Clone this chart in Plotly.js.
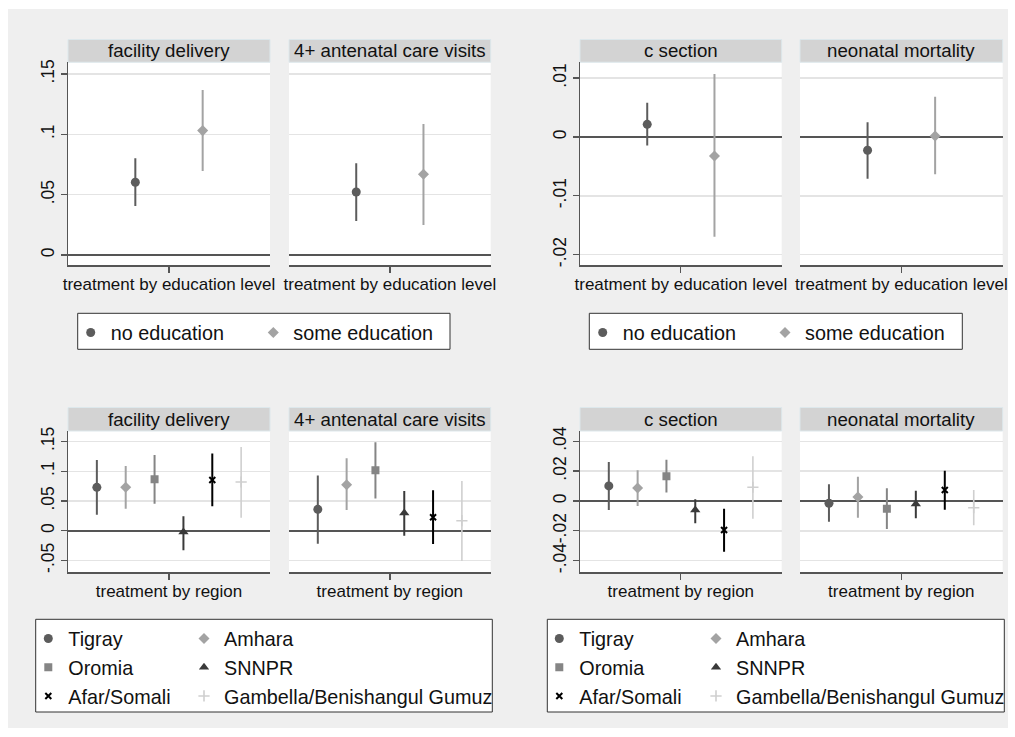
<!DOCTYPE html>
<html><head><meta charset="utf-8">
<script src="https://cdn.plot.ly/plotly-3.0.1.min.js"></script>
<style>html,body{margin:0;padding:0;background:#fff}#chart{width:1015px;height:737px}</style>
</head><body><div id="chart"></div>
<script>
// ---------------- DATA ----------------
const panelTitles = ['facility delivery', '4+ antenatal care visits', 'c section', 'neonatal mortality'];
const eduAxisTitle = 'treatment by education level';
const regAxisTitle = 'treatment by region';

const eduGroups = ['no education', 'some education'];
const eduX = [1, 2];
const fdEduEst = [0.0603, 0.1031];
const fdEduLo  = [0.0406, 0.0697];
const fdEduHi  = [0.0802, 0.1368];
const ancEduEst = [0.0522, 0.0669];
const ancEduLo  = [0.0282, 0.0249];
const ancEduHi  = [0.0760, 0.1086];
const csEduEst = [0.00215, -0.00323];
const csEduLo  = [-0.00147, -0.01693];
const csEduHi  = [0.00583, 0.0107];
const nmEduEst = [-0.00226, 0.00017];
const nmEduLo  = [-0.00708, -0.00634];
const nmEduHi  = [0.0025, 0.00685];

const regions = ['Tigray', 'Amhara', 'Oromia', 'SNNPR', 'Afar/Somali', 'Gambella/Benishangul Gumuz'];
const regX = [1, 2, 3, 4, 5, 6];
const fdRegEst = [0.073, 0.073, 0.0865, -0.002, 0.0853, 0.082];
const fdRegLo  = [0.027, 0.037, 0.0455, -0.033, 0.041, 0.022];
const fdRegHi  = [0.119, 0.109, 0.1274, 0.0242, 0.130, 0.141];
const ancRegEst = [0.036, 0.0775, 0.1017, 0.030, 0.0226, 0.0168];
const ancRegLo  = [-0.022, 0.035, 0.054, -0.0084, -0.0224, -0.051];
const ancRegHi  = [0.093, 0.122, 0.149, 0.0668, 0.068, 0.0837];
const csRegEst = [0.0101, 0.0087, 0.0166, -0.006, -0.0195, 0.0092];
const csRegLo  = [-0.006, -0.0034, 0.0056, -0.015, -0.034, -0.0119];
const csRegHi  = [0.0262, 0.0206, 0.0277, 0.0011, -0.0052, 0.030];
const nmRegEst = [-0.0015, 0.0027, -0.0052, -0.002, 0.0074, -0.0045];
const nmRegLo  = [-0.0139, -0.0112, -0.0188, -0.0116, -0.0058, -0.0163];
const nmRegHi  = [0.0112, 0.0163, 0.0085, 0.0069, 0.0203, 0.0074];

const tlTickVals = [0, 0.05, 0.1, 0.15];
const tlTickText = ['0', '.05', '.1', '.15'];
const trTickVals = [-0.02, -0.01, 0, 0.01];
const trTickText = ['-.02', '-.01', '0', '.01'];
const blTickVals = [-0.05, 0, 0.05, 0.1, 0.15];
const blTickText = ['-.05', '0', '.05', '.1', '.15'];
const brTickVals = [-0.04, -0.02, 0, 0.02, 0.04];
const brTickText = ['-.04', '-.02', '0', '.02', '.04'];

// ---------------- STYLE ----------------
const FONT = 'Liberation Sans, Arial, Helvetica, sans-serif';
const W = 1015, H = 737;
const px = v => v / W;
const py = v => 1 - v / H;

const eduStyle = [
  {symbol: 'circle', color: '#5c5c5c', size: 9},
  {symbol: 'diamond', color: '#a3a3a3', size: 8.5}
];
const regStyle = [
  {symbol: 'circle', color: '#5c5c5c', size: 9},
  {symbol: 'diamond', color: '#a3a3a3', size: 8.5},
  {symbol: 'square', color: '#858585', size: 8},
  {symbol: 'triangle-up', color: '#3a3a3a', size: 9},
  {symbol: 'x-thin', color: '#000000', size: 6, lw: 2},
  {symbol: 'cross-thin', color: '#cfcfcf', size: 8, lw: 1.6}
];
const regGroup = ['c1', 'c2', 'c1', 'c2', 'c1', 'c2'];

const colX = [[68, 270], [289, 490.7], [580, 781.7], [800, 1002.7]];
const topY = [62.2, 265.3], botY = [431, 572.3];
const topStrip = [39.5, 62.2], botStrip = [407.5, 431];

const traces = [];
function addPanel(k, xs, est, lo, hi, names, styles, legendId, groupPrefix, groups, colWidths) {
  const ax = k === 1 ? '' : String(k);
  for (let i = 0; i < est.length; i++) {
    const s = styles[i];
    const marker = {symbol: s.symbol, size: s.size, color: s.color};
    if (s.lw) marker.line = {color: s.color, width: s.lw};
    const t = {
      type: 'scatter', mode: 'markers',
      x: [xs[i]], y: [est[i]], name: names[i],
      xaxis: 'x' + ax, yaxis: 'y' + ax,
      marker: marker,
      error_y: {type: 'data', symmetric: false, array: [hi[i] - est[i]], arrayminus: [est[i] - lo[i]],
                color: s.color, thickness: s.symbol === 'cross-thin' ? 1.6 : 2, width: 0},
      showlegend: !!legendId,
      hoverinfo: 'skip'
    };
    if (legendId) {
      t.legend = legendId;
      if (groups) {
        t.legendgroup = groupPrefix + groups[i];
        t.legendwidth = groups[i] === 'c1' ? colWidths[0] : colWidths[1];
      }
    }
    traces.push(t);
  }
}

addPanel(1, eduX, fdEduEst, fdEduLo, fdEduHi, eduGroups, eduStyle, 'legend');
addPanel(2, eduX, ancEduEst, ancEduLo, ancEduHi, eduGroups, eduStyle, null);
addPanel(3, eduX, csEduEst, csEduLo, csEduHi, eduGroups, eduStyle, 'legend2');
addPanel(4, eduX, nmEduEst, nmEduLo, nmEduHi, eduGroups, eduStyle, null);
addPanel(5, regX, fdRegEst, fdRegLo, fdRegHi, regions, regStyle, 'legend3', 'bl', regGroup, [110.7, 270]);
addPanel(6, regX, ancRegEst, ancRegLo, ancRegHi, regions, regStyle, null);
addPanel(7, regX, csRegEst, csRegLo, csRegHi, regions, regStyle, 'legend4', 'br', regGroup, [111.7, 270]);
addPanel(8, regX, nmRegEst, nmRegLo, nmRegHi, regions, regStyle, null);

function yAx(domY, range, vals, text, showLabels, zw, anchor) {
  return {
    domain: [py(domY[1]), py(domY[0])], range: range, anchor: anchor,
    tickmode: 'array', tickvals: vals, ticktext: text,
    showticklabels: showLabels, ticks: showLabels ? 'outside' : '', ticklen: 6, tickwidth: 1.3, tickcolor: '#555',
    tickangle: -90, tickfont: {family: FONT, size: 17.5, color: '#111'},
    showgrid: true, gridcolor: '#e4e4e4', gridwidth: 1.5,
    zeroline: true, zerolinecolor: '#555', zerolinewidth: zw,
    showline: showLabels, linecolor: '#555', linewidth: 1.3, fixedrange: true
  };
}
function xAx(domX, range, tick, title, anchor) {
  return {
    domain: [px(domX[0]), px(domX[1])], range: range, anchor: anchor,
    tickmode: 'array', tickvals: [tick], ticktext: [''],
    ticks: 'outside', ticklen: 6, tickwidth: 1.3, tickcolor: '#555',
    showgrid: false, zeroline: false, showline: true, linecolor: '#555', linewidth: 1.3,
    title: {text: title, font: {family: FONT, size: 17, color: '#111'}, standoff: 4},
    automargin: true, fixedrange: true
  };
}

const tlRange = [-0.0085, 0.1598], trRange = [-0.0218, 0.0127];
const blRange = [-0.070, 0.1678], brRange = [-0.0478, 0.0469];

const layout = {
  width: W, height: H,
  margin: {l: 0, r: 0, t: 0, b: 0, pad: 0},
  paper_bgcolor: '#ffffff', plot_bgcolor: '#ffffff',
  font: {family: FONT, color: '#111'},
  xaxis:  xAx(colX[0], [0, 3], 1.5, eduAxisTitle, 'y'),
  xaxis2: xAx(colX[1], [0, 3], 1.5, eduAxisTitle, 'y2'),
  xaxis3: xAx(colX[2], [0, 3], 1.5, eduAxisTitle, 'y3'),
  xaxis4: xAx(colX[3], [0, 3], 1.5, eduAxisTitle, 'y4'),
  xaxis5: xAx(colX[0], [0, 7], 3.5, regAxisTitle, 'y5'),
  xaxis6: xAx(colX[1], [0, 7], 3.5, regAxisTitle, 'y6'),
  xaxis7: xAx(colX[2], [0, 7], 3.5, regAxisTitle, 'y7'),
  xaxis8: xAx(colX[3], [0, 7], 3.5, regAxisTitle, 'y8'),
  yaxis:  yAx(topY, tlRange, tlTickVals, tlTickText, true, 2.6, 'x'),
  yaxis2: yAx(topY, tlRange, tlTickVals, tlTickText, false, 2.6, 'x2'),
  yaxis3: yAx(topY, trRange, trTickVals, trTickText, true, 1.5, 'x3'),
  yaxis4: yAx(topY, trRange, trTickVals, trTickText, false, 1.5, 'x4'),
  yaxis5: yAx(botY, blRange, blTickVals, blTickText, true, 1.8, 'x5'),
  yaxis6: yAx(botY, blRange, blTickVals, blTickText, false, 1.8, 'x6'),
  yaxis7: yAx(botY, brRange, brTickVals, brTickText, true, 1.5, 'x7'),
  yaxis8: yAx(botY, brRange, brTickVals, brTickText, false, 1.5, 'x8'),
  shapes: [], annotations: []
};

// background panel
layout.shapes.push({type: 'rect', xref: 'paper', yref: 'paper', x0: px(8), x1: px(1008), y0: py(728), y1: py(9),
  fillcolor: '#efefef', line: {width: 0}, layer: 'below'});
// white plot areas + strips
[topY, botY].forEach((ry, r) => {
  const st = r === 0 ? topStrip : botStrip;
  colX.forEach((cx, c) => {
    layout.shapes.push({type: 'rect', xref: 'paper', yref: 'paper', x0: px(cx[0]), x1: px(cx[1]), y0: py(ry[1]), y1: py(ry[0]),
      fillcolor: '#ffffff', line: {width: 0}, layer: 'below'});
    layout.shapes.push({type: 'rect', xref: 'paper', yref: 'paper', x0: px(cx[0]), x1: px(cx[1]), y0: py(st[1]), y1: py(st[0]),
      fillcolor: '#d3d3d3', line: {color: '#dde8ec', width: 1}, layer: 'below'});
    layout.annotations.push({xref: 'paper', yref: 'paper', x: px((cx[0] + cx[1]) / 2), y: py((st[0] + st[1]) / 2),
      xanchor: 'center', yanchor: 'middle', showarrow: false, text: panelTitles[c],
      font: {family: FONT, size: 18.7, color: '#111'}});
  });
});
// legend boxes
const legBoxes = [[77.7, 450, 313.3, 349.3], [589.3, 962.3, 313.3, 349.3], [35.7, 492.3, 619.3, 712], [547.3, 1004.3, 619.3, 712]];
legBoxes.forEach(b => layout.shapes.push({type: 'rect', xref: 'paper', yref: 'paper', x0: px(b[0]), x1: px(b[1]), y0: py(b[3]), y1: py(b[2]),
  fillcolor: '#ffffff', line: {color: '#333', width: 1}, layer: 'below'}));

function legendCfg(x, y, ew, grouped) {
  return {x: px(x), y: py(y), xanchor: 'left', yanchor: 'top', orientation: 'h',
    bgcolor: 'rgba(0,0,0,0)', borderwidth: 0, font: {family: FONT, size: 19.8, color: '#111'},
    entrywidth: ew, entrywidthmode: 'pixels', traceorder: grouped ? 'grouped' : 'normal', tracegroupgap: 0,
    itemclick: false, itemdoubleclick: false};
}
layout.legend  = legendCfg(70.7, 313.1, 137.6, false);
layout.legend2 = legendCfg(582.7, 313.1, 137.3, false);
layout.legend3 = legendCfg(28.3, 619.1, 0, true);
layout.legend4 = legendCfg(539.3, 619.1, 0, true);

Plotly.newPlot('chart', traces, layout, {staticPlot: true, displayModeBar: false});
</script>
</body></html>
